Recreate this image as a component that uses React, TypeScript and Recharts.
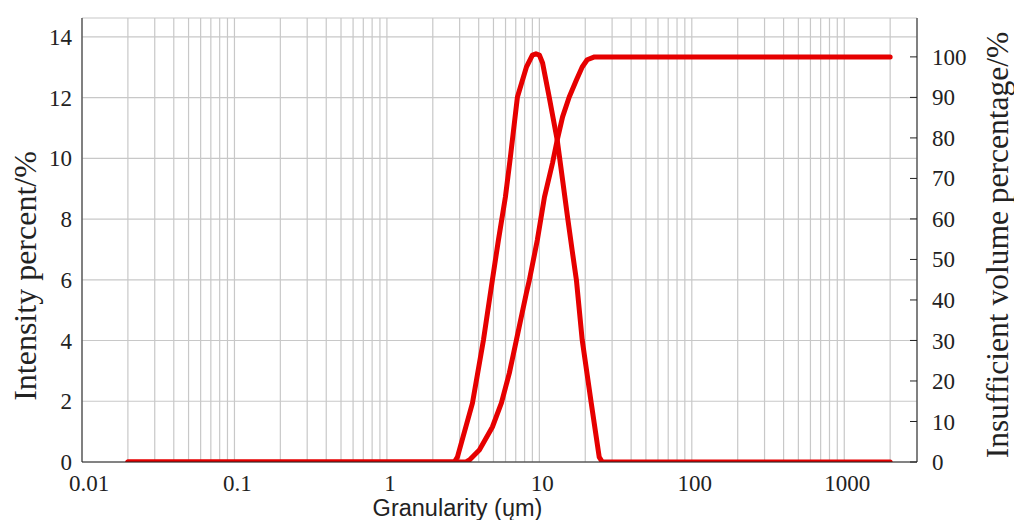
import { CartesianGrid, Line, LineChart, XAxis, YAxis } from "recharts";

// log x axis: labelled decades + minor grid positions
const decadeTicks = [0.01, 0.1, 1, 10, 100, 1000];
const gridTicks = [
  0.01, 0.02, 0.03, 0.04, 0.05, 0.06, 0.07, 0.08, 0.09,
  0.1, 0.2, 0.3, 0.4, 0.5, 0.6, 0.7, 0.8, 0.9,
  1, 2, 3, 4, 5, 6, 7, 8, 9,
  10, 20, 30, 40, 50, 60, 70, 80, 90,
  100, 200, 300, 400, 500, 600, 700, 800, 900,
  1000, 2000,
];
const leftTicks = [0, 2, 4, 6, 8, 10, 12, 14];
const rightTicks = [0, 10, 20, 30, 40, 50, 60, 70, 80, 90, 100];

// intensity distribution (left axis)
const intensitySize = [
  0.02, 2.77, 2.9, 3.64, 4.3, 4.92, 5.39, 5.99, 6.46, 7.18, 8.22, 8.6, 9.0, 9.5,
  10.0, 10.5, 11.6, 13.1, 14.2, 15.3, 16.4, 17.5, 19.1, 21.9, 24.7, 25.9, 2000,
];
const intensityValue = [
  0, 0, 0.16, 1.94, 4.02, 6.0, 7.31, 8.73, 10.05, 12.02, 13.0, 13.2, 13.4, 13.44,
  13.4, 13.14, 12.02, 10.6, 9.29, 8.07, 6.98, 5.99, 4.02, 1.94, 0.16, 0, 0,
];

// cumulative undersize volume (right axis)
const volumeSize = [
  0.02, 3.3, 3.48, 4.04, 4.92, 5.64, 6.36, 7.07, 8.22, 8.6, 9.7, 10.8, 12.2, 13.1,
  14.2, 15.7, 17.5, 19.1, 20.6, 23.0, 2000,
];
const volumeValue = [
  0, 0, 0.5, 2.96, 8.64, 14.6, 22.0, 30.1, 41.7, 44.9, 54.8, 65.4, 73.8, 79.5,
  85.2, 90.1, 94.3, 97.5, 99.3, 100, 100,
];

const intensityData = intensitySize.map((size, i) => ({ size, value: intensityValue[i] }));
const volumeData = volumeSize.map((size, i) => ({ size, value: volumeValue[i] }));

const RED = "#e60000";
const INK = "#222";
const SERIF = "'Liberation Serif', 'Times New Roman', serif";

function BottomTick(props: any) {
  const { x, y, payload, index } = props;
  if (!decadeTicks.includes(payload.value)) return null;
  // first label sits a little right of the corner in the original
  const shift = index === 0 ? 7 : 3;
  return (
    <text x={x + shift} y={y} dy="0.72em" textAnchor="middle" fontFamily={SERIF} fontSize={23} fill={INK}>
      {payload.value}
    </text>
  );
}

function RightTick(props: any) {
  const { x, y, payload } = props;
  const axisX = x - 15;
  return (
    <g>
      <line x1={axisX - 7} x2={axisX} y1={y} y2={y} stroke={INK} strokeWidth={1} />
      <text x={x} y={y} dy="0.35em" textAnchor="start" fontFamily={SERIF} fontSize={23} fill={INK}>
        {payload.value}
      </text>
    </g>
  );
}

export default function App() {
  return (
    <div style={{ position: "absolute", left: 0, top: 0, background: "#fff" }}>
      <LineChart width={1014} height={520} margin={{ top: 18, right: 0, bottom: 0, left: 0 }}>
        <CartesianGrid stroke="#c8c8c8" strokeWidth={1.2} yAxisId="left" />
        <XAxis
          type="number"
          dataKey="size"
          scale="log"
          domain={[0.01, 3000]}
          allowDataOverflow
          ticks={gridTicks}
          interval={0}
          height={58}
          tickLine={false}
          tickSize={6}
          tickMargin={6}
          axisLine={{ stroke: INK }}
          tick={<BottomTick />}
          label={{
            content: ({ viewBox }: any) => (
              <text
                x={viewBox.x + viewBox.width / 2 - 42}
                y={viewBox.y + 54}
                textAnchor="middle"
                fontFamily="'Liberation Sans', Arial, sans-serif"
                fontSize={23.5}
                fill={INK}
              >
                Granularity (ųm)
              </text>
            ),
          }}
        />
        <YAxis
          yAxisId="left"
          type="number"
          domain={[0, 14.62]}
          allowDataOverflow
          ticks={leftTicks}
          interval={0}
          width={82}
          tickLine={false}
          tickSize={8}
          tickMargin={2}
          axisLine={{ stroke: INK }}
          tick={{ fontFamily: SERIF, fontSize: 23, fill: INK }}
          label={{
            content: ({ viewBox }: any) => (
              <text
                transform={`translate(25, ${viewBox.y + 258}) rotate(-90)`}
                dy="0.35em"
                textAnchor="middle"
                fontFamily={SERIF}
                fontSize={32}
                fill={INK}
              >
                Intensity percent/%
              </text>
            ),
          }}
        />
        <YAxis
          yAxisId="right"
          orientation="right"
          type="number"
          domain={[0, 109.6]}
          allowDataOverflow
          ticks={rightTicks}
          interval={0}
          width={97}
          tickLine={false}
          tickSize={8}
          tickMargin={7}
          axisLine={{ stroke: INK }}
          tick={<RightTick />}
          label={{
            content: ({ viewBox }: any) => (
              <text
                transform={`translate(${viewBox.x + 80}, ${viewBox.y + 227}) rotate(-90)`}
                dy="0.35em"
                textAnchor="middle"
                fontFamily={SERIF}
                fontSize={31.5}
                fill={INK}
              >
                Insufficient volume percentage/%
              </text>
            ),
          }}
        />
        <Line
          yAxisId="left"
          data={intensityData}
          dataKey="value"
          type="linear"
          stroke={RED}
          strokeWidth={5}
          strokeLinecap="round"
          strokeLinejoin="round"
          dot={false}
          activeDot={false}
          isAnimationActive={false}
        />
        <Line
          yAxisId="right"
          data={volumeData}
          dataKey="value"
          type="linear"
          stroke={RED}
          strokeWidth={5}
          strokeLinecap="round"
          strokeLinejoin="round"
          dot={false}
          activeDot={false}
          isAnimationActive={false}
        />
      </LineChart>
    </div>
  );
}
